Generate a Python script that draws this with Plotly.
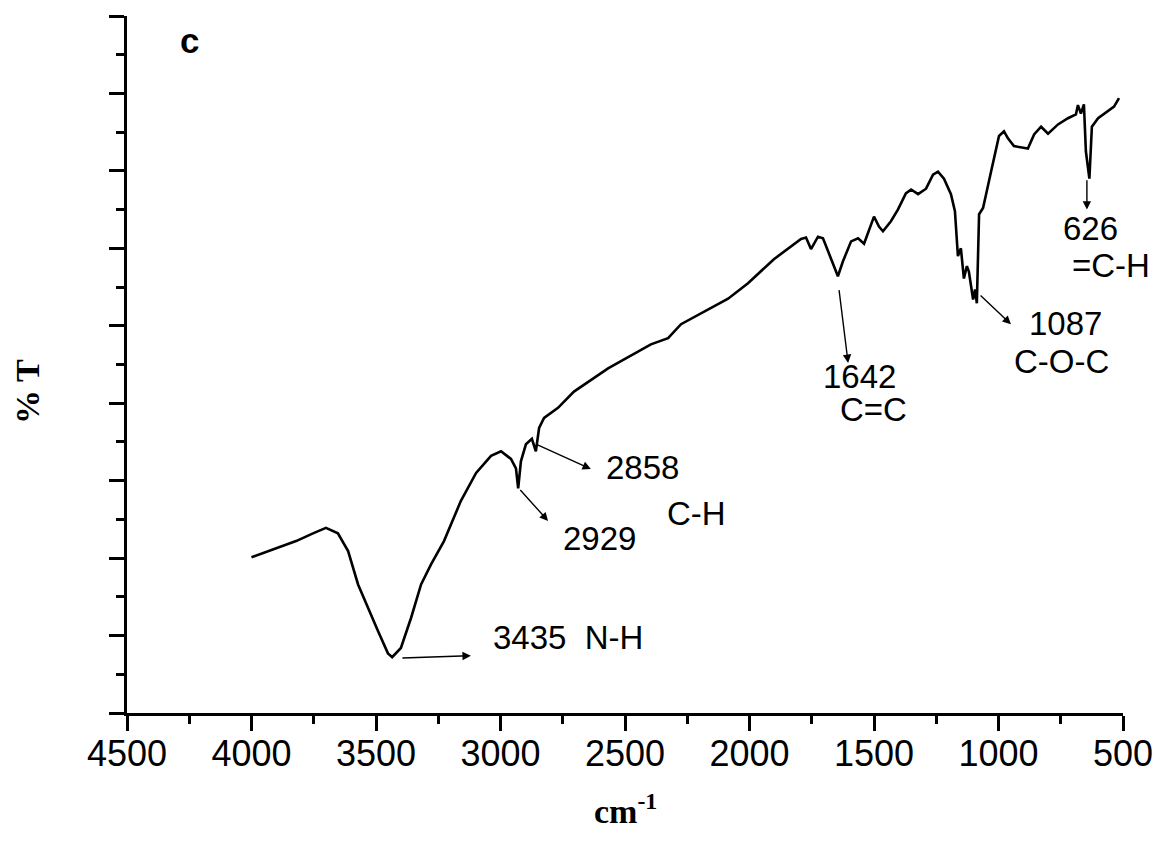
import plotly.graph_objects as go

# FTIR spectrum (wavenumber cm^-1, %T in arbitrary units)
wavenumber = [4000, 3922, 3821, 3753, 3701, 3653, 3612, 3572, 3532, 3492, 3452, 3435,
              3400, 3359, 3319, 3279, 3227, 3159, 3098, 3038, 2998, 2958, 2938, 2929,
              2918, 2898, 2874, 2858, 2845, 2825, 2769, 2705, 2568, 2396, 2327, 2275,
              2086, 2006, 1902, 1793, 1773, 1753, 1725, 1705, 1673, 1645, 1625, 1592,
              1564, 1540, 1500, 1480, 1464, 1432, 1404, 1372, 1351, 1323, 1291, 1263,
              1243, 1219, 1191, 1175, 1163, 1151, 1139, 1127, 1119, 1102, 1094, 1087,
              1078, 1062, 1030, 998, 978, 962, 938, 882, 857, 829, 801, 761, 721, 689,
              681, 669, 657, 649, 635, 625, 600, 560, 536, 516]
transmittance = [20.1, 21.0, 22.2, 23.2, 23.9, 23.2, 20.9, 16.6, 13.5, 10.6, 7.7, 7.2,
                 8.4, 12.3, 16.6, 19.2, 22.2, 27.4, 31.0, 33.2, 33.8, 32.8, 31.6, 29.0,
                 32.5, 34.7, 35.4, 33.8, 36.8, 38.1, 39.4, 41.5, 44.5, 47.6, 48.4, 50.2,
                 53.5, 55.5, 58.6, 61.2, 61.4, 59.9, 61.5, 61.3, 58.7, 56.4, 58.3, 60.9,
                 61.3, 60.6, 64.1, 62.8, 62.2, 63.5, 65.0, 67.1, 67.6, 67.0, 67.7, 69.5,
                 69.9, 69.0, 67.0, 64.8, 59.0, 60.0, 56.1, 57.7, 57.0, 53.4, 54.7, 52.9,
                 64.4, 65.2, 69.9, 74.5, 75.1, 74.2, 73.2, 72.9, 74.7, 75.7, 74.8, 76.0,
                 76.8, 77.3, 78.5, 77.4, 78.6, 72.5, 69.0, 75.7, 76.8, 77.7, 78.3, 79.4]

x_ticks = [4500, 4000, 3500, 3000, 2500, 2000, 1500, 1000, 500]

# Peak labels: (text, x, y)
labels = [
    ("3435  N-H", 2729, 9.7),
    ("2858", 2428, 31.7),
    ("2929", 2604, 22.5),
    ("C-H", 2211, 25.7),
    ("1642", 1560, 43.5),
    ("C=C", 1504, 39.2),
    ("1087", 729, 50.3),
    ("C-O-C", 749, 45.4),
    ("626", 629, 62.5),
    ("=C-H", 548, 57.8),
]
# Arrows: (tail_x, tail_y, head_x, head_y)
arrows = [
    (3400, 7.1, 3119, 7.4),
    (2857, 34.7, 2637, 31.5),
    (2926, 29.0, 2809, 24.8),
    (1641, 54.8, 1604, 45.2),
    (1078, 54.1, 950, 50.2),
    (645, 69.0, 645, 65.0),
]

fig = go.Figure()
fig.add_trace(go.Scatter(x=wavenumber, y=transmittance, mode="lines",
                         line=dict(color="black", width=2.6), showlegend=False))

annotations = []
for t, x, y in labels:
    annotations.append(dict(x=x, y=y, xref="x", yref="y", text=t, showarrow=False,
                            xanchor="center", yanchor="middle",
                            font=dict(family="Liberation Sans, Arial", size=33, color="black")))
for tx, ty, hx, hy in arrows:
    annotations.append(dict(x=hx, y=hy, ax=tx, ay=ty, xref="x", yref="y", axref="x", ayref="y",
                            text="", showarrow=True, arrowhead=2, arrowsize=1.2, arrowwidth=1.4,
                            arrowcolor="black", standoff=0, startstandoff=0))
annotations.append(dict(x=4251, y=86.8, xref="x", yref="y", text="<b>c</b>",
                        xanchor="center", yanchor="middle",
                        showarrow=False, font=dict(family="Liberation Sans, Arial", size=35, color="black")))
# axis titles
annotations.append(dict(x=0.5, y=-0.138, xref="paper", yref="paper", text="<b>cm<sup>-1</sup></b>",
                        xanchor="center", yanchor="middle", showarrow=False,
                        font=dict(family="Liberation Serif, Times New Roman", size=34, color="black")))
annotations.append(dict(x=-0.0994, y=0.462, xref="paper", yref="paper", text="<b>% T</b>",
                        xanchor="center", yanchor="middle", showarrow=False, textangle=-90,
                        font=dict(family="Liberation Serif, Times New Roman", size=34, color="black")))

fig.update_layout(
    width=1161, height=841,
    paper_bgcolor="white", plot_bgcolor="white",
    margin=dict(l=119, r=46, t=8, b=136),
    annotations=annotations,
    xaxis=dict(
        range=[4500, 500], tickvals=x_ticks, ticktext=[str(v) for v in x_ticks],
        ticks="outside", ticklen=15, tickwidth=3, tickcolor="black", automargin=False,
        showline=True, linecolor="black", linewidth=3, showgrid=False, zeroline=False,
        tickfont=dict(family="Liberation Sans, Arial", size=36, color="black"),
        ticklabelstandoff=-8,
        minor=dict(dtick=250, ticks="outside", ticklen=8, tickwidth=3, tickcolor="black", showgrid=False),
    ),
    yaxis=dict(
        range=[0, 90], dtick=10, showticklabels=False, automargin=False,
        ticks="outside", ticklen=15, tickwidth=3, tickcolor="black",
        showline=True, linecolor="black", linewidth=3, showgrid=False, zeroline=False,
        minor=dict(dtick=5, ticks="outside", ticklen=8, tickwidth=3, tickcolor="black", showgrid=False),
    ),
)

fig.write_html("out.html")
